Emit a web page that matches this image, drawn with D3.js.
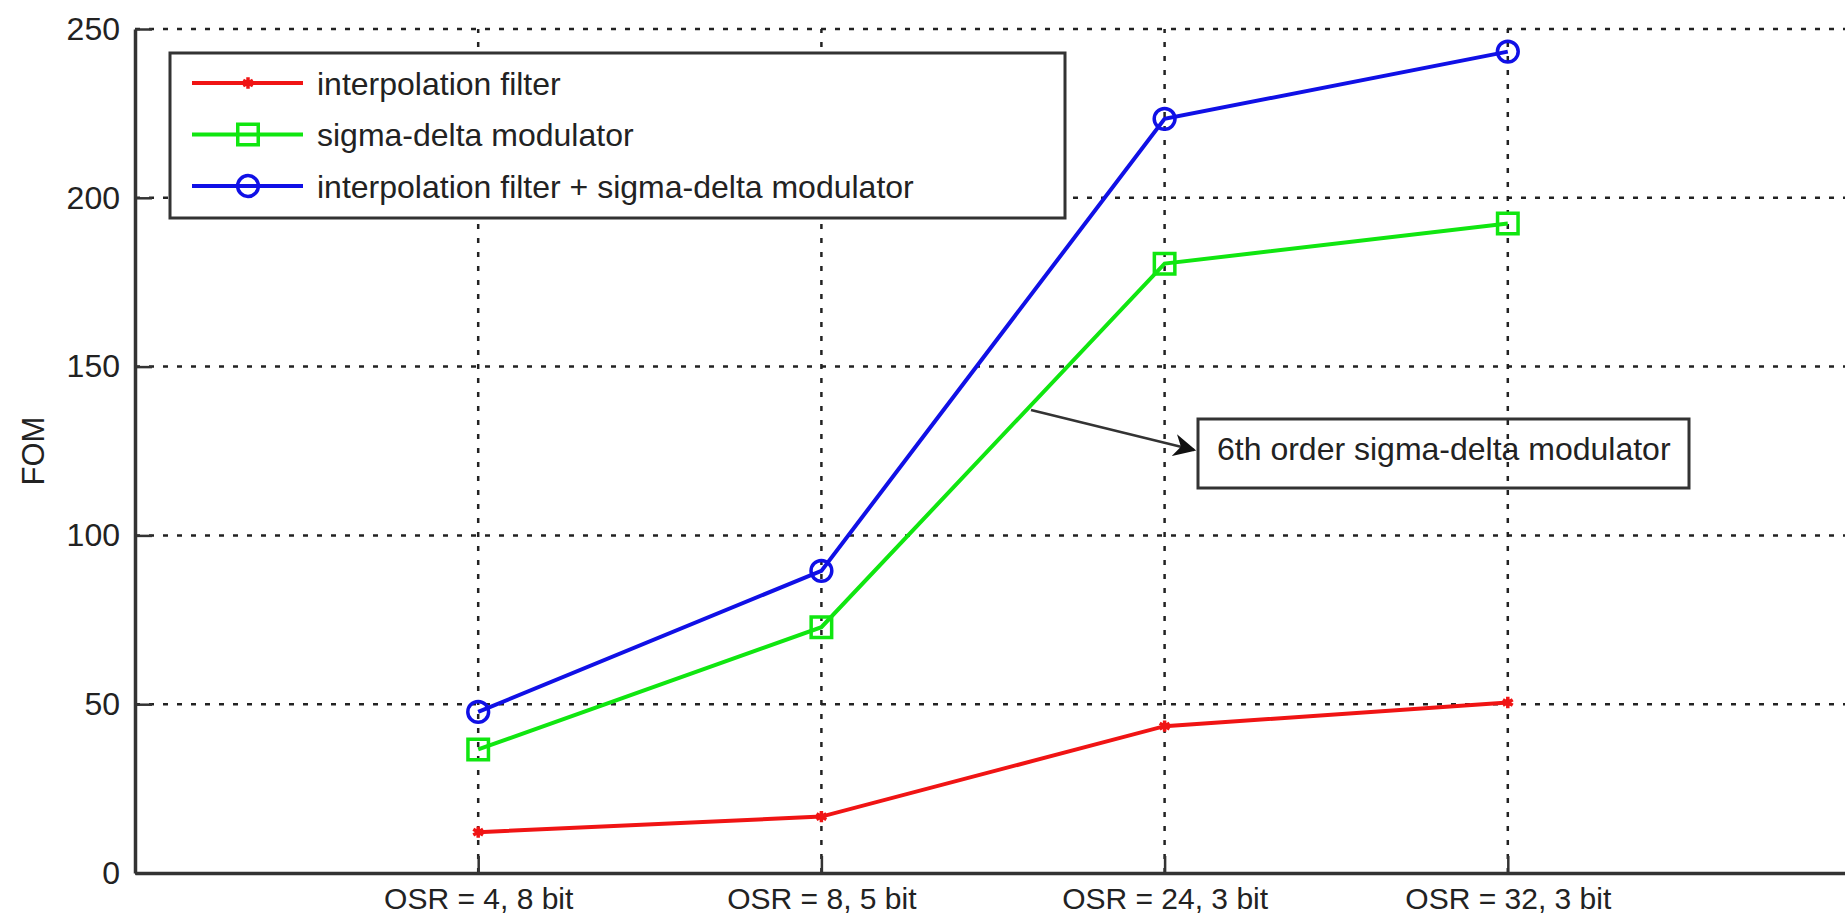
<!DOCTYPE html>
<html>
<head>
<meta charset="utf-8">
<script src="https://cdn.jsdelivr.net/npm/d3@7"></script>
<style>
  body { margin: 0; background: #fff; }
  svg { display: block; }
  text { font-family: "Liberation Sans", Arial, sans-serif; fill: #222; }
</style>
</head>
<body>
<div id="chart"></div>
<script>
// data
const categories = ['OSR = 4, 8 bit', 'OSR = 8, 5 bit', 'OSR = 24, 3 bit', 'OSR = 32, 3 bit'];
const interpFilter = [12.1, 16.7, 43.5, 50.5];
const sigmaDelta = [36.6, 72.8, 180.5, 192.4];
const combined = [47.7, 89.5, 223.4, 243.3];
const yTicks = [0, 50, 100, 150, 200, 250];
const seriesNames = [
  'interpolation filter',
  'sigma-delta modulator',
  'interpolation filter + sigma-delta modulator',
];
const annotationText = '6th order sigma-delta modulator';

const width = 1845;
const height = 922;
const margin = { top: 29, left: 135, bottom: 49 }; // right side runs off the picture
const fontSize = 31;

const x = d3.scaleLinear().domain([0, 5]).range([margin.left, 1851]);
const y = d3.scaleLinear().domain([0, 250]).range([height - margin.bottom, margin.top]);

const svg = d3.select('#chart')
  .append('svg')
  .attr('width', width)
  .attr('height', height);

// grid
const grid = svg.append('g')
  .attr('stroke', '#222')
  .attr('stroke-width', 2.5)
  .attr('stroke-dasharray', '5,9');

grid.selectAll('.hgrid')
  .data(yTicks.filter((d) => d > 0))
  .join('line')
  .attr('class', 'hgrid')
  .attr('x1', x(0))
  .attr('x2', x(5))
  .attr('y1', (d) => y(d))
  .attr('y2', (d) => y(d));

grid.selectAll('.vgrid')
  .data(categories)
  .join('line')
  .attr('class', 'vgrid')
  .attr('x1', (_, i) => x(i + 1))
  .attr('x2', (_, i) => x(i + 1))
  .attr('y1', y(0))
  .attr('y2', y(250));

// axes
const yAxis = d3.axisLeft(y)
  .tickValues(yTicks)
  .tickSizeInner(-17)
  .tickSizeOuter(0)
  .tickPadding(15);

const xAxis = d3.axisBottom(x)
  .tickValues([1, 2, 3, 4])
  .tickFormat((d) => categories[d - 1])
  .tickSizeInner(-17)
  .tickSizeOuter(0)
  .tickPadding(15);

const styleAxis = (size) => (g) => {
  g.select('.domain').attr('stroke', '#333').attr('stroke-width', 3.5);
  g.selectAll('.tick line').attr('stroke', '#333').attr('stroke-width', 2.5);
  g.selectAll('.tick text')
    .attr('fill', '#222')
    .style('font-size', `${size}px`)
    .style('font-family', '"Liberation Sans", Arial, sans-serif');
};

svg.append('g')
  .attr('transform', `translate(${x(0)},0)`)
  .call(yAxis)
  .call(styleAxis(32));

svg.append('g')
  .attr('transform', `translate(0,${y(0)})`)
  .call(xAxis)
  .call(styleAxis(30));

svg.append('text')
  .attr('transform', `translate(${44},${(y(0) + y(250)) / 2}) rotate(-90)`)
  .attr('text-anchor', 'middle')
  .style('font-size', `${fontSize}px`)
  .text('FOM');

// series
const series = [
  { name: seriesNames[0], values: interpFilter, color: '#f01414', symbol: d3.symbolAsterisk, size: 90 },
  { name: seriesNames[1], values: sigmaDelta, color: '#10e610', symbol: d3.symbolSquare, size: 420 },
  { name: seriesNames[2], values: combined, color: '#1010e6', symbol: d3.symbolCircle, size: 340 },
];

const line = d3.line()
  .x((_, i) => x(i + 1))
  .y((d) => y(d));

series.forEach((s) => {
  const g = svg.append('g');
  g.append('path')
    .datum(s.values)
    .attr('d', line)
    .attr('fill', 'none')
    .attr('stroke', s.color)
    .attr('stroke-width', 4);
  g.selectAll('path.marker')
    .data(s.values)
    .join('path')
    .attr('class', 'marker')
    .attr('d', d3.symbol().type(s.symbol).size(s.size))
    .attr('transform', (d, i) => `translate(${x(i + 1)},${y(d)})`)
    .attr('fill', 'none')
    .attr('stroke', s.color)
    .attr('stroke-width', 3.5);
});

// legend
const legend = svg.append('g').attr('transform', 'translate(170,53)');
legend.append('rect')
  .attr('width', 895)
  .attr('height', 165)
  .attr('fill', '#fff')
  .attr('stroke', '#333')
  .attr('stroke-width', 3);

const rows = legend.selectAll('.row')
  .data(series)
  .join('g')
  .attr('class', 'row')
  .attr('transform', (_, i) => `translate(0,${30 + i * 51.5})`);

rows.append('line')
  .attr('x1', 22)
  .attr('x2', 133)
  .attr('stroke', (d) => d.color)
  .attr('stroke-width', 4);

rows.append('path')
  .attr('d', (d) => d3.symbol().type(d.symbol).size(d.size)())
  .attr('transform', 'translate(78,0)')
  .attr('fill', 'none')
  .attr('stroke', (d) => d.color)
  .attr('stroke-width', 3.5);

rows.append('text')
  .attr('x', 147)
  .attr('dy', '0.36em')
  .style('font-size', '32px')
  .text((d) => d.name);

// annotation arrow + box
const defs = svg.append('defs');
defs.append('marker')
  .attr('id', 'arrowhead')
  .attr('viewBox', '0 0 10 10')
  .attr('refX', 9)
  .attr('refY', 5)
  .attr('markerWidth', 9)
  .attr('markerHeight', 9)
  .attr('markerUnits', 'strokeWidth')
  .attr('orient', 'auto')
  .append('path')
  .attr('d', 'M0,0 L10,5 L0,10 L3,5 z')
  .attr('fill', '#111');

svg.append('line')
  .attr('x1', 1031)
  .attr('y1', 410)
  .attr('x2', 1194)
  .attr('y2', 450)
  .attr('stroke', '#333')
  .attr('stroke-width', 2.5)
  .attr('marker-end', 'url(#arrowhead)');

svg.append('rect')
  .attr('x', 1198)
  .attr('y', 419)
  .attr('width', 491)
  .attr('height', 69)
  .attr('fill', 'none')
  .attr('stroke', '#333')
  .attr('stroke-width', 3);

svg.append('text')
  .attr('x', 1217)
  .attr('y', 460)
  .style('font-size', '32px')
  .text(annotationText);
</script>
</body>
</html>
